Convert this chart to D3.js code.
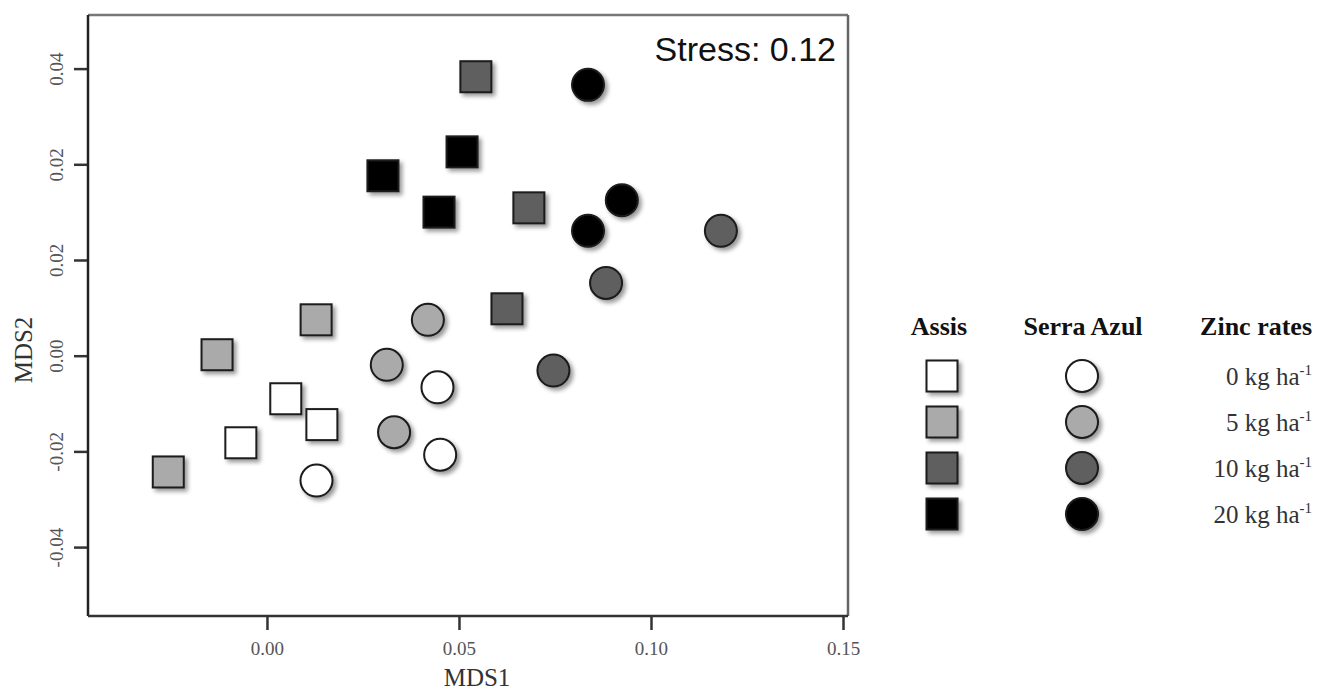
<!DOCTYPE html>
<html>
<head>
    <meta charset="utf-8">
    <style>
        body { margin: 0; background: #fff; }
    </style>
</head>
<body>

    <script src="https://d3js.org/d3.v7.min.js"></script>

    <div id="canvas"></div>

    <script type="text/javascript">

        // data (MDS1, MDS2)
        var rates = ["0 kg ha", "5 kg ha", "10 kg ha", "20 kg ha"];
        var rateFills = ["#ffffff", "#aaaaaa", "#5e5e5e", "#000000"];

        var assis0 = [[0.0049, -0.0090], [-0.0068, -0.0182], [0.0143, -0.0144]];
        var assis5 = [[-0.0257, -0.0243], [-0.0130, 0.0002], [0.0128, 0.0075]];
        var assis10 = [[0.0544, 0.0583], [0.0682, 0.0309], [0.0625, 0.0098]];
        var assis20 = [[0.0302, 0.0376], [0.0508, 0.0426], [0.0448, 0.0300]];

        var serra0 = [[0.0129, -0.0261], [0.0444, -0.0066], [0.0451, -0.0207]];
        var serra5 = [[0.0419, 0.0075], [0.0312, -0.0019], [0.0331, -0.0160]];
        var serra10 = [[0.1182, 0.0261], [0.0883, 0.0152], [0.0746, -0.0031]];
        var serra20 = [[0.0836, 0.0566], [0.0924, 0.0325], [0.0836, 0.0261]];

        var xTickVals = [0.00, 0.05, 0.10, 0.15];
        var xTickLabels = ["0.00", "0.05", "0.10", "0.15"];
        // y tick labels exactly as printed on the original figure
        var yTickVals = [0.06, 0.04, 0.02, 0.00, -0.02, -0.04];
        var yTickLabels = ["0.04", "0.02", "0.02", "0.00", "-0.02", "-0.04"];

        var stressText = "Stress: 0.12";

        draw_chart();

        function draw_chart() {
            var W = 1317, H = 693;
            var margin = {top: 15, left: 88};
            var width = 760, height = 601;
            var serif = "'Liberation Serif', 'Times New Roman', serif";

            var svg = d3.select("#canvas")
                        .append("svg")
                        .attr("width", W)
                        .attr("height", H);

            // soft drop shadow used by every marker
            var defs = svg.append("defs");
            defs.append("filter")
                .attr("id", "shadow")
                .attr("x", "-50%").attr("y", "-50%")
                .attr("width", "200%").attr("height", "200%")
                .append("feDropShadow")
                .attr("dx", 3).attr("dy", 3)
                .attr("stdDeviation", 2)
                .attr("flood-color", "#000")
                .attr("flood-opacity", 0.4);

            var g = svg.append("g")
                    .attr("transform", `translate(${margin.left}, ${margin.top})`);

            var xscale = d3.scaleLinear().domain([-0.0466, 0.1513]).range([0, width]);
            var yscale = d3.scaleLinear().domain([-0.0544, 0.0712]).range([height, 0]);

            // axes
            var xaxis = d3.axisBottom(xscale)
                        .tickValues(xTickVals)
                        .tickFormat(function(d, i){ return xTickLabels[i]; })
                        .tickSize(14)
                        .tickPadding(12);
            var gx = g.append("g")
                .attr("transform", "translate(0," + height + ")")
                .call(xaxis);

            var yaxis = d3.axisLeft(yscale)
                        .tickValues(yTickVals)
                        .tickFormat(function(d, i){ return yTickLabels[i]; })
                        .tickSize(14);
            var gy = g.append("g").call(yaxis);

            [gx, gy].forEach(function(a) {
                a.select(".domain").remove();
                a.selectAll(".tick line")
                    .attr("stroke", "#333")
                    .attr("stroke-width", 2.5);
                a.selectAll(".tick text")
                    .style("font-family", serif)
                    .style("font-size", "19px")
                    .attr("fill", "#555");
            });
            gy.selectAll(".tick text")
                .attr("x", null).attr("dy", null)
                .attr("text-anchor", "middle")
                .attr("transform", "translate(-25,0) rotate(-90)");

            // frame: dark left/bottom, grey top/right
            g.append("line").attr("x1", 0).attr("y1", 0).attr("x2", width).attr("y2", 0)
                .attr("stroke", "#777").attr("stroke-width", 2.5);
            g.append("line").attr("x1", width).attr("y1", 0).attr("x2", width).attr("y2", height)
                .attr("stroke", "#666").attr("stroke-width", 2.5);
            g.append("line").attr("x1", 0).attr("y1", 0).attr("x2", 0).attr("y2", height)
                .attr("stroke", "#222").attr("stroke-width", 2.5);
            g.append("line").attr("x1", 0).attr("y1", height).attr("x2", width).attr("y2", height)
                .attr("stroke", "#333").attr("stroke-width", 2.5);

            // axis names
            svg.append("text")
                .text("MDS1")
                .attr("x", 477)
                .attr("y", 686)
                .attr("text-anchor", "middle")
                .style("font-family", serif)
                .style("font-size", "25px")
                .attr("fill", "#333");
            svg.append("text")
                .text("MDS2")
                .attr("transform", "translate(32,350) rotate(-90)")
                .attr("text-anchor", "middle")
                .style("font-family", serif)
                .style("font-size", "25px")
                .attr("fill", "#333");

            // stress value
            g.append("text")
                .text(stressText)
                .attr("x", width - 12)
                .attr("y", 46)
                .attr("text-anchor", "end")
                .style("font-family", "'Liberation Sans', Arial, sans-serif")
                .style("font-size", "34px")
                .attr("fill", "#111");

            var side = 31, radius = 16;
            var assis = [assis0, assis5, assis10, assis20];
            var serra = [serra0, serra5, serra10, serra20];

            // Assis: squares
            assis.forEach(function(pts, k) {
                g.selectAll(null)
                    .data(pts)
                    .enter()
                    .append("rect")
                    .attr("x", function(d){ return xscale(d[0]) - side / 2; })
                    .attr("y", function(d){ return yscale(d[1]) - side / 2; })
                    .attr("width", side)
                    .attr("height", side)
                    .attr("fill", rateFills[k])
                    .attr("stroke", "#1a1a1a")
                    .attr("stroke-width", 2)
                    .attr("filter", "url(#shadow)");
            });

            // Serra Azul: circles
            serra.forEach(function(pts, k) {
                g.selectAll(null)
                    .data(pts)
                    .enter()
                    .append("circle")
                    .attr("cx", function(d){ return xscale(d[0]); })
                    .attr("cy", function(d){ return yscale(d[1]); })
                    .attr("r", radius)
                    .attr("fill", rateFills[k])
                    .attr("stroke", "#1a1a1a")
                    .attr("stroke-width", 2)
                    .attr("filter", "url(#shadow)");
            });

            // legend
            var lg = svg.append("g");
            var heads = [["Assis", 939, "middle"], ["Serra Azul", 1083, "middle"], ["Zinc rates", 1312, "end"]];
            heads.forEach(function(h) {
                lg.append("text")
                    .text(h[0])
                    .attr("x", h[1])
                    .attr("y", 335)
                    .attr("text-anchor", h[2])
                    .style("font-family", serif)
                    .style("font-size", "26px")
                    .style("font-weight", "bold")
                    .attr("fill", "#111");
            });

            var rowY = d3.scaleLinear().domain([0, 3]).range([376, 514]);
            rates.forEach(function(r, k) {
                var cy = rowY(k);
                lg.append("rect")
                    .attr("x", 942 - side / 2)
                    .attr("y", cy - side / 2)
                    .attr("width", side)
                    .attr("height", side)
                    .attr("fill", rateFills[k])
                    .attr("stroke", "#1a1a1a")
                    .attr("stroke-width", 2)
                    .attr("filter", "url(#shadow)");
                lg.append("circle")
                    .attr("cx", 1082)
                    .attr("cy", cy)
                    .attr("r", radius)
                    .attr("fill", rateFills[k])
                    .attr("stroke", "#1a1a1a")
                    .attr("stroke-width", 2)
                    .attr("filter", "url(#shadow)");
                var t = lg.append("text")
                    .attr("x", 1312)
                    .attr("y", cy + 9)
                    .attr("text-anchor", "end")
                    .style("font-family", serif)
                    .style("font-size", "25px")
                    .attr("fill", "#333");
                t.append("tspan").text(r);
                t.append("tspan")
                    .text("-1")
                    .attr("dy", -10)
                    .style("font-size", "15px");
            });
        }

    </script>

</body>
</html>
